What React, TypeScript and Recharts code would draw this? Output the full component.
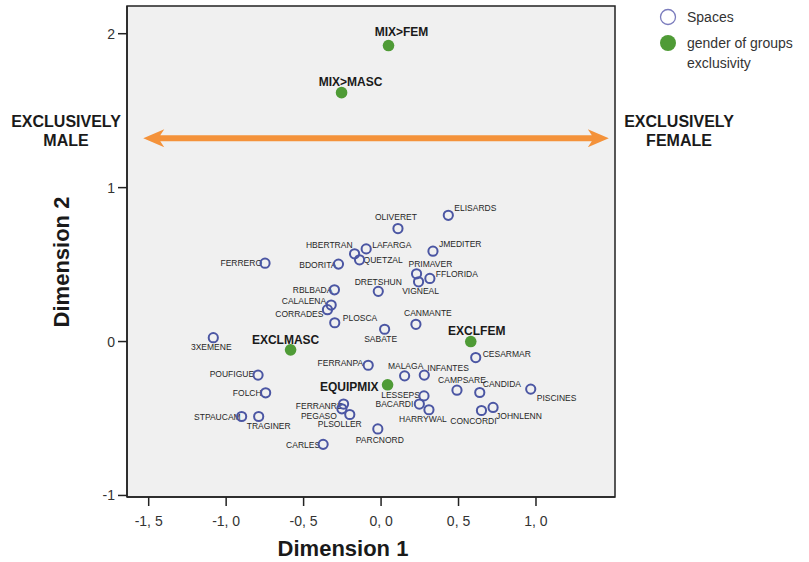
import React from "react";
import {
  ScatterChart,
  Scatter,
  XAxis,
  YAxis,
  CartesianGrid,
  ReferenceArea,
  ReferenceLine,
} from "recharts";

// spaces (blue hollow circles)
const spaceNames = [
  "ELISARDS", "OLIVERET", "LAFARGA", "HBERTRAN", "QUETZAL", "JMEDITER", "FERRERO", "BDORITA",
  "PRIMAVER", "FFLORIDA", "VIGNEAL", "RBLBADA", "DRETSHUN", "CALALENA", "CORRADES", "PLOSCA",
  "SABATE", "CANMANTE", "3XEMENE", "CESARMAR", "FERRANPA", "MALAGA", "INFANTES", "POUFIGUE",
  "CAMPSARE", "CANDIDA", "PISCINES", "FOLCH", "LESSEPS", "BACARDI", "HARRYWAL", "FERRANRE",
  "PEGASO", "PLSOLLER", "STPAUCAM", "TRAGINER", "CONCORDI", "JOHNLENN", "PARCNORD", "CARLES",
];
const spaceX = [
  0.434, 0.109, -0.096, -0.171, -0.139, 0.335, -0.749, -0.275,
  0.229, 0.315, 0.242, -0.301, -0.018, -0.322, -0.346, -0.299,
  0.023, 0.225, -1.083, 0.611, -0.083, 0.152, 0.279, -0.794,
  0.49, 0.637, 0.966, -0.745, 0.277, 0.247, 0.309, -0.242,
  -0.253, -0.202, -0.9, -0.79, 0.648, 0.723, -0.021, -0.374,
];
const spaceY = [
  0.82, 0.734, 0.602, 0.57, 0.531, 0.587, 0.509, 0.503,
  0.44, 0.41, 0.388, 0.336, 0.326, 0.237, 0.207, 0.122,
  0.08, 0.112, 0.025, -0.104, -0.154, -0.223, -0.218, -0.218,
  -0.316, -0.331, -0.309, -0.333, -0.353, -0.406, -0.443, -0.406,
  -0.437, -0.474, -0.487, -0.487, -0.448, -0.428, -0.568, -0.668,
];

// gender of groups exclusivity (green dots)
const groupNames = ["MIX>FEM", "MIX>MASC", "EXCLMASC", "EXCLFEM", "EQUIPMIX"];
const groupX = [0.048, -0.255, -0.584, 0.579, 0.042];
const groupY = [1.923, 1.617, -0.054, 0.0, -0.281];

const xTicks = [-1.5, -1, -0.5, 0, 0.5, 1];
const yTicks = [-1, 0, 1, 2];

const spaces = spaceNames.map((name, i) => ({ name, x: spaceX[i], y: spaceY[i] }));
const groups = groupNames.map((name, i) => ({ name, x: groupX[i], y: groupY[i] }));

// label placement next to each point: [dx, dy, anchor]
type Place = [number, number, "start" | "middle" | "end"];
const labelAt: Record<string, Place> = {
  ELISARDS: [6, -7, "start"], OLIVERET: [-2, -12, "middle"], LAFARGA: [6, -4, "start"],
  HBERTRAN: [-2, -9, "end"], QUETZAL: [4, 0, "start"], JMEDITER: [6, -7, "start"],
  FERRERO: [-3, 0, "end"], BDORITA: [-2, 1, "end"], PRIMAVER: [-8, -10, "start"],
  FFLORIDA: [6, -4, "start"], VIGNEAL: [2, 9, "middle"], RBLBADA: [-2, 0, "end"],
  DRETSHUN: [0, -9, "middle"], CALALENA: [-5, -4, "end"], CORRADES: [-4, 4, "end"],
  PLOSCA: [8, -5, "start"], SABATE: [-4, 10, "middle"], CANMANTE: [12, -11, "middle"],
  "3XEMENE": [-2, 9, "middle"], CESARMAR: [7, -4, "start"], FERRANPA: [-5, -2, "end"],
  MALAGA: [1, -10, "middle"], INFANTES: [3, -7, "start"], POUFIGUE: [-4, -1, "end"],
  CAMPSARE: [5, -10, "middle"], CANDIDA: [3, -8, "start"], PISCINES: [6, 9, "start"],
  FOLCH: [-4, 0, "end"], LESSEPS: [-4, -1, "end"], BACARDI: [-6, 0, "end"],
  HARRYWAL: [-6, 9, "middle"], FERRANRE: [-1, 2, "end"], PEGASO: [-5, 7, "end"],
  PLSOLLER: [-10, 10, "middle"], STPAUCAM: [-1, 0, "end"], TRAGINER: [10, 9, "middle"],
  CONCORDI: [-8, 11, "middle"], JOHNLENN: [3, 9, "start"], PARCNORD: [2, 11, "middle"],
  CARLES: [-3, 1, "end"],
  "MIX>FEM": [13, -14, "middle"], "MIX>MASC": [9, -11, "middle"], EXCLMASC: [-5, -10, "middle"],
  EXCLFEM: [6, -11, "middle"], EQUIPMIX: [-9, 2, "end"],
};

const FONT = "'Liberation Sans', Arial, Helvetica, sans-serif";
const BLUE = "#4b56a3";
const GREEN = "#4f9b36";
const ORANGE = "#f4923a";

const fmtX = (v: number) => v.toFixed(1).replace(".", ", ");

const SpaceDot = (props: any) => {
  const { cx, cy, payload } = props;
  const p = labelAt[payload.name] || [6, 0, "start"];
  return (
    <g>
      <text x={cx + p[0]} y={cy + p[1] + 3} textAnchor={p[2]} fontSize={8.5} fontFamily={FONT} fill="#262626">
        {payload.name}
      </text>
      <circle cx={cx} cy={cy} r={4.6} fill="none" stroke={BLUE} strokeWidth={2} />
    </g>
  );
};

const GroupDot = (props: any) => {
  const { cx, cy, payload } = props;
  const p = labelAt[payload.name] || [6, 0, "start"];
  return (
    <g>
      <text x={cx + p[0]} y={cy + p[1] + 4.3} textAnchor={p[2]} fontSize={12} fontWeight="bold" fontFamily={FONT} fill="#1a1a1a">
        {payload.name}
      </text>
      <circle cx={cx} cy={cy} r={5.8} fill={GREEN} />
    </g>
  );
};

const Arrow = (props: any) => {
  const { x1, y1, x2 } = props;
  const y = y1;
  const t = 3;
  const hl = 21;
  const hh = 9;
  const d = [
    `M${x1},${y}`,
    `L${x1 + hl},${y - hh}`,
    `L${x1 + hl - 4},${y - t}`,
    `L${x2 - hl + 4},${y - t}`,
    `L${x2 - hl},${y - hh}`,
    `L${x2},${y}`,
    `L${x2 - hl},${y + hh}`,
    `L${x2 - hl + 4},${y + t}`,
    `L${x1 + hl - 4},${y + t}`,
    `L${x1 + hl},${y + hh}`,
    "Z",
  ].join(" ");
  return <path d={d} fill={ORANGE} />;
};

const sideText: React.CSSProperties = {
  position: "absolute",
  fontFamily: FONT,
  fontWeight: "bold",
  fontSize: 16,
  lineHeight: "19px",
  color: "#1a1a1a",
  textAlign: "center",
};

export default function App() {
  return (
    <div style={{ position: "absolute", left: 0, top: 0, width: 809, height: 562, background: "#fff" }}>
      <ScatterChart width={809} height={562} margin={{ top: 6, right: 194, bottom: 30, left: 70 }}>
        <CartesianGrid horizontal={false} vertical={false} fill="#f0f0f0" />
        <XAxis
          type="number"
          dataKey="x"
          domain={[-1.64, 1.51]}
          ticks={xTicks}
          tickFormatter={fmtX}
          height={35}
          tickSize={9}
          tickMargin={10}
          axisLine={{ stroke: "#222", strokeWidth: 1.5 }}
          tickLine={{ stroke: "#222", strokeWidth: 1.5 }}
          tick={{ fontSize: 14, fill: "#333", fontFamily: FONT }}
          allowDataOverflow
        />
        <YAxis
          type="number"
          dataKey="y"
          domain={[-1.01, 2.18]}
          ticks={yTicks}
          width={57}
          tickSize={9}
          tickMargin={3}
          axisLine={{ stroke: "#222", strokeWidth: 1.5 }}
          tickLine={{ stroke: "#222", strokeWidth: 1.5 }}
          tick={{ fontSize: 14, fill: "#333", fontFamily: FONT }}
          allowDataOverflow
        />
        <ReferenceArea x1={-1.64} x2={1.51} y1={-1.01} y2={2.18} fill="none" stroke="#222" strokeWidth={1.5} />
        <ReferenceLine
          segment={[{ x: -1.535, y: 1.32 }, { x: 1.47, y: 1.32 }]}
          shape={Arrow}
          ifOverflow="visible"
        />
        <Scatter data={spaces} shape={SpaceDot} isAnimationActive={false} />
        <Scatter data={groups} shape={GroupDot} isAnimationActive={false} />
      </ScatterChart>

      <div style={{ ...sideText, left: 0, top: 112, width: 132 }}>
        EXCLUSIVELY<br />MALE
      </div>
      <div style={{ ...sideText, left: 613, top: 112, width: 132 }}>
        EXCLUSIVELY<br />FEMALE
      </div>

      <div
        style={{
          position: "absolute",
          left: 273,
          top: 536,
          width: 140,
          textAlign: "center",
          fontFamily: FONT,
          fontWeight: "bold",
          fontSize: 22,
          color: "#1a1a1a",
          whiteSpace: "nowrap",
        }}
      >
        Dimension 1
      </div>
      <div
        style={{
          position: "absolute",
          left: 62,
          top: 262,
          transform: "translate(-50%, -50%) rotate(-90deg)",
          fontFamily: FONT,
          fontWeight: "bold",
          fontSize: 22,
          color: "#1a1a1a",
          whiteSpace: "nowrap",
        }}
      >
        Dimension 2
      </div>

      <svg style={{ position: "absolute", left: 655, top: 0 }} width={154} height={80}>
        <circle cx={13} cy={17} r={7.5} fill="#fff" stroke="#7b7cbd" strokeWidth={1.3} />
        <circle cx={13} cy={43} r={8} fill={GREEN} />
        <text x={32} y={22} fontSize={14} fontFamily={FONT} fill="#333">Spaces</text>
        <text x={32} y={48} fontSize={14} fontFamily={FONT} fill="#333">gender of groups</text>
        <text x={32} y={68} fontSize={14} fontFamily={FONT} fill="#333">exclusivity</text>
      </svg>
    </div>
  );
}
